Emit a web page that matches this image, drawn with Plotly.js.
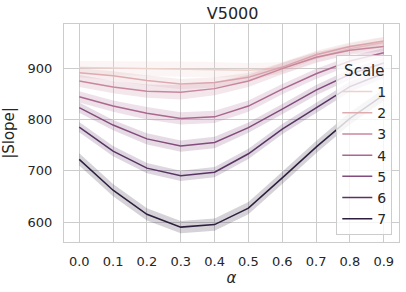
<!DOCTYPE html>
<html><head><meta charset="utf-8">
<script src="https://cdn.plot.ly/plotly-3.0.1.min.js"></script>
<style>html,body{margin:0;padding:0;background:#fff}#plot{width:406px;height:292px}</style>
</head><body><div id="plot"></div>
<script>
const alpha = [0.0,0.1,0.2,0.3,0.4,0.5,0.6,0.7,0.8,0.9];
const scales = [1,2,3,4,5,6,7];
const s1 = [901, 900, 899, 898, 897, 896, 900, 920, 938, 950];
const s2 = [891, 885, 876, 869, 872, 882, 902, 926, 942, 953];
const s3 = [875, 863, 855, 853, 860, 875, 899, 921, 935, 942];
const s4 = [844, 826, 812, 802, 805, 826, 859, 889, 914, 930];
const s5 = [823, 789, 762, 748, 755, 784, 820, 857, 888, 910];
const s6 = [785, 738, 705, 690, 697, 733, 781, 823, 864, 890];
const s7 = [722, 662, 615, 590, 595, 627, 686, 746, 802, 848];
const hw1 = [13, 14, 15, 15, 15, 14, 12, 11, 10, 10];
const hw2 = [9, 9, 10, 10, 10, 9, 9, 8, 8, 8];
const hw3 = [12, 12, 13, 14, 13, 12, 11, 10, 9, 9];
const hw4 = [11, 11, 12, 12, 12, 11, 10, 10, 9, 9];
const hw5 = [10, 10, 11, 11, 11, 10, 10, 10, 10, 10];
const hw6 = [10, 10, 10, 10, 10, 10, 10, 10, 10, 10];
const hw7 = [12, 12, 12, 12, 12, 12, 12, 12, 12, 12];
const series = [s1,s2,s3,s4,s5,s6,s7];
const halfw = [hw1,hw2,hw3,hw4,hw5,hw6,hw7];

// seaborn default cubehelix colormap (start=0, rot=0.4, hue=0.8, light=0.85, dark=0.15)
function cubehelix(x){
  const a = 0.8*x*(1-x)/2, phi = 2*Math.PI*(0/3 + 0.4*x);
  const c = Math.cos(phi), s = Math.sin(phi);
  const r = x + a*(-0.14861*c + 1.78277*s);
  const g = x + a*(-0.29227*c - 0.90649*s);
  const b = x + a*(1.97294*c);
  const f = v => Math.round(Math.max(0,Math.min(1,v))*255);
  return [f(r),f(g),f(b)];
}
const traces = [];
scales.forEach((sc,i)=>{
  const t = (sc - scales[0])/(scales[scales.length-1]-scales[0]);
  const rgb = cubehelix(0.85 - 0.7*t);
  const col = `rgb(${rgb.join(',')})`;
  const fillc = `rgba(${rgb.join(',')},0.2)`;
  const y = series[i], h = halfw[i];
  traces.push({x:alpha, y:y.map((v,k)=>v+h[k]), mode:'lines', line:{width:0,color:col}, showlegend:false, hoverinfo:'skip'});
  traces.push({x:alpha, y:y.map((v,k)=>v-h[k]), mode:'lines', line:{width:0,color:col}, fill:'tonexty', fillcolor:fillc, showlegend:false, hoverinfo:'skip'});
  traces.push({x:alpha, y:y, mode:'lines', name:`<span style="font-size:14px">${sc}</span>`, line:{color:col,width:1.5}});
});
const layout = {
  width:406, height:292,
  margin:{l:64,r:7,t:24,b:50},
  paper_bgcolor:'#fff', plot_bgcolor:'#fff',
  font:{family:'DejaVu Sans, sans-serif', size:13, color:'#262626'},
  title:{text:'V5000', font:{size:16,color:'#262626'}, x:0.573, xanchor:'center', y:0.955, yanchor:'middle'},
  xaxis:{range:[-0.045,0.945], tickvals:alpha, ticktext:alpha.map(v=>v.toFixed(1)),
    showgrid:true, gridcolor:'#cccccc', gridwidth:1, zeroline:false,
    showline:true, mirror:true, linecolor:'#cccccc', linewidth:1, ticks:'', ticklabelstandoff:7,
    tickfont:{size:13,color:'#262626'},
    title:{text:'<i>α</i>', font:{size:15,color:'#262626'}, standoff:4}},
  yaxis:{range:[561,986], tickvals:[600,700,800,900],
    showgrid:true, gridcolor:'#cccccc', gridwidth:1, zeroline:false,
    showline:true, mirror:true, linecolor:'#cccccc', linewidth:1, ticks:'', ticklabelstandoff:8,
    tickfont:{size:13,color:'#262626'},
    title:{text:'|Slope|', font:{size:15,color:'#262626'}, standoff:9}},
  legend:{title:{text:'Scale', side:'top center', font:{size:15,color:'#262626'}}, font:{size:14,color:'#262626'},
    traceorder:'normal',
    x:0.98, xanchor:'right', y:0.03, yanchor:'bottom',
    bgcolor:'rgba(255,255,255,0.8)', bordercolor:'#cccccc', borderwidth:1,
    tracegroupgap:0, itemwidth:30},
  showlegend:true
};
Plotly.newPlot('plot', traces, layout, {staticPlot:true, displayModeBar:false});
</script></body></html>
